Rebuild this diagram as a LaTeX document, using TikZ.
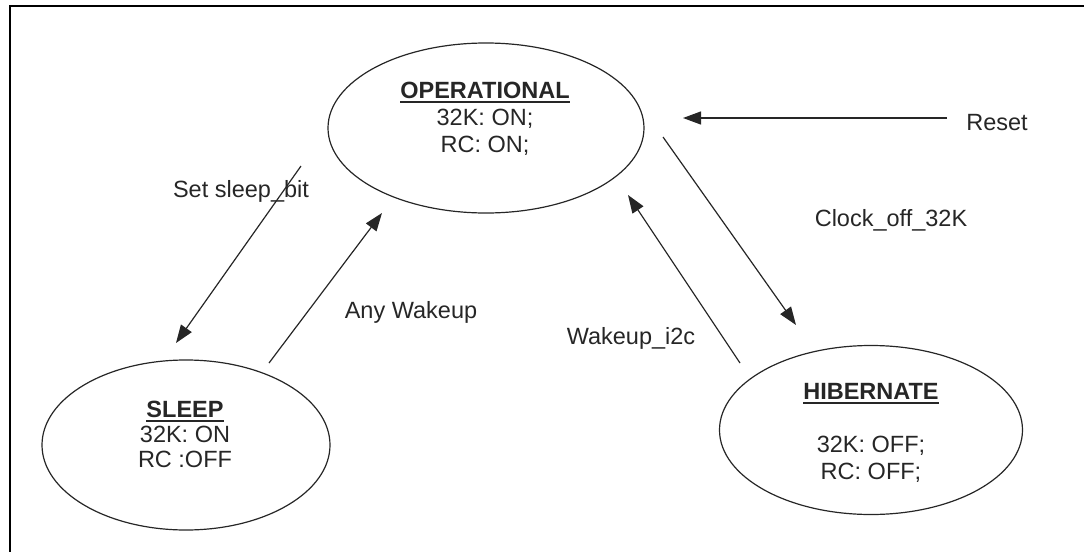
\documentclass[tikz,border=0pt]{standalone}
\usepackage{fontspec}
\setmainfont{Liberation Sans}
\usetikzlibrary{shapes,arrows.meta}
\definecolor{inkgray}{HTML}{262626}
\newcommand{\statetitle}[1]{\setbox0\hbox{\bfseries #1}\copy0\llap{\rule[-2.4pt]{\wd0}{1.1pt}}}

\begin{document}
\begin{tikzpicture}[x=0.5pt,y=-0.5pt,
        state/.style={ellipse,draw=inkgray,line width=0.6pt,inner sep=0pt},
        statetext/.style={align=center,text=inkgray,anchor=base,font=\fontsize{11.75}{13.5}\selectfont},
        trans/.style={draw=inkgray,line width=0.6pt,-{Triangle[length=9pt,width=6.5pt]}},
        translabel/.style={text=inkgray,anchor=base,font=\fontsize{11.75}{13.5}\selectfont}]
        \useasboundingbox (0,0) rectangle (1084,552);
        \draw[line width=0.85pt] (1084,6) -- (10,6) -- (10,552);

        \node[state,minimum width=158pt,minimum height=85pt] (operational) at (486,128) {};
        \node[state,minimum width=144pt,minimum height=85pt] (sleep) at (186,445) {};
        \node[state,minimum width=151.5pt,minimum height=84.5pt] (hibernate) at (871,430) {};

        \node[statetext] (operational text) at (485,152) {\statetitle{OPERATIONAL}\\32K: ON;\\RC: ON;};
        \node[statetext] (sleep text) at (185,467) {\statetitle{SLEEP}\\[-1pt]32K: ON\\[-1pt]RC :OFF};
        \node[statetext] (hibernate text) at (871,479) {\statetitle{HIBERNATE}\\[13pt]32K: OFF;\\RC: OFF;};

        \coordinate (setsleep start) at (301,166);
        \coordinate (setsleep end) at (176,343);
        \coordinate (anywakeup start) at (269,363);
        \coordinate (anywakeup end) at (382,213);
        \coordinate (clockoff start) at (663,137);
        \coordinate (clockoff end) at (796,325);
        \coordinate (wakeupi2c start) at (740,363);
        \coordinate (wakeupi2c end) at (628,195);
        \coordinate (reset start) at (947,118);
        \coordinate (reset end) at (683,118);

        \draw[trans] (setsleep start) -- (setsleep end);
        \draw[trans] (anywakeup start) -- (anywakeup end);
        \draw[trans] (clockoff start) -- (clockoff end);
        \draw[trans] (wakeupi2c start) -- (wakeupi2c end);
        \draw[trans] (reset start) -- (reset end);

        \node[translabel] (setsleep label) at (241,197) {Set sleep\_bit};
        \node[translabel] (anywakeup label) at (411,318) {Any Wakeup};
        \node[translabel] (wakeupi2c label) at (631,344) {Wakeup\_i2c};
        \node[translabel] (clockoff label) at (891,226) {Clock\_off\_32K};
        \node[translabel] (reset label) at (997,130) {Reset};
\end{tikzpicture}
\end{document}
